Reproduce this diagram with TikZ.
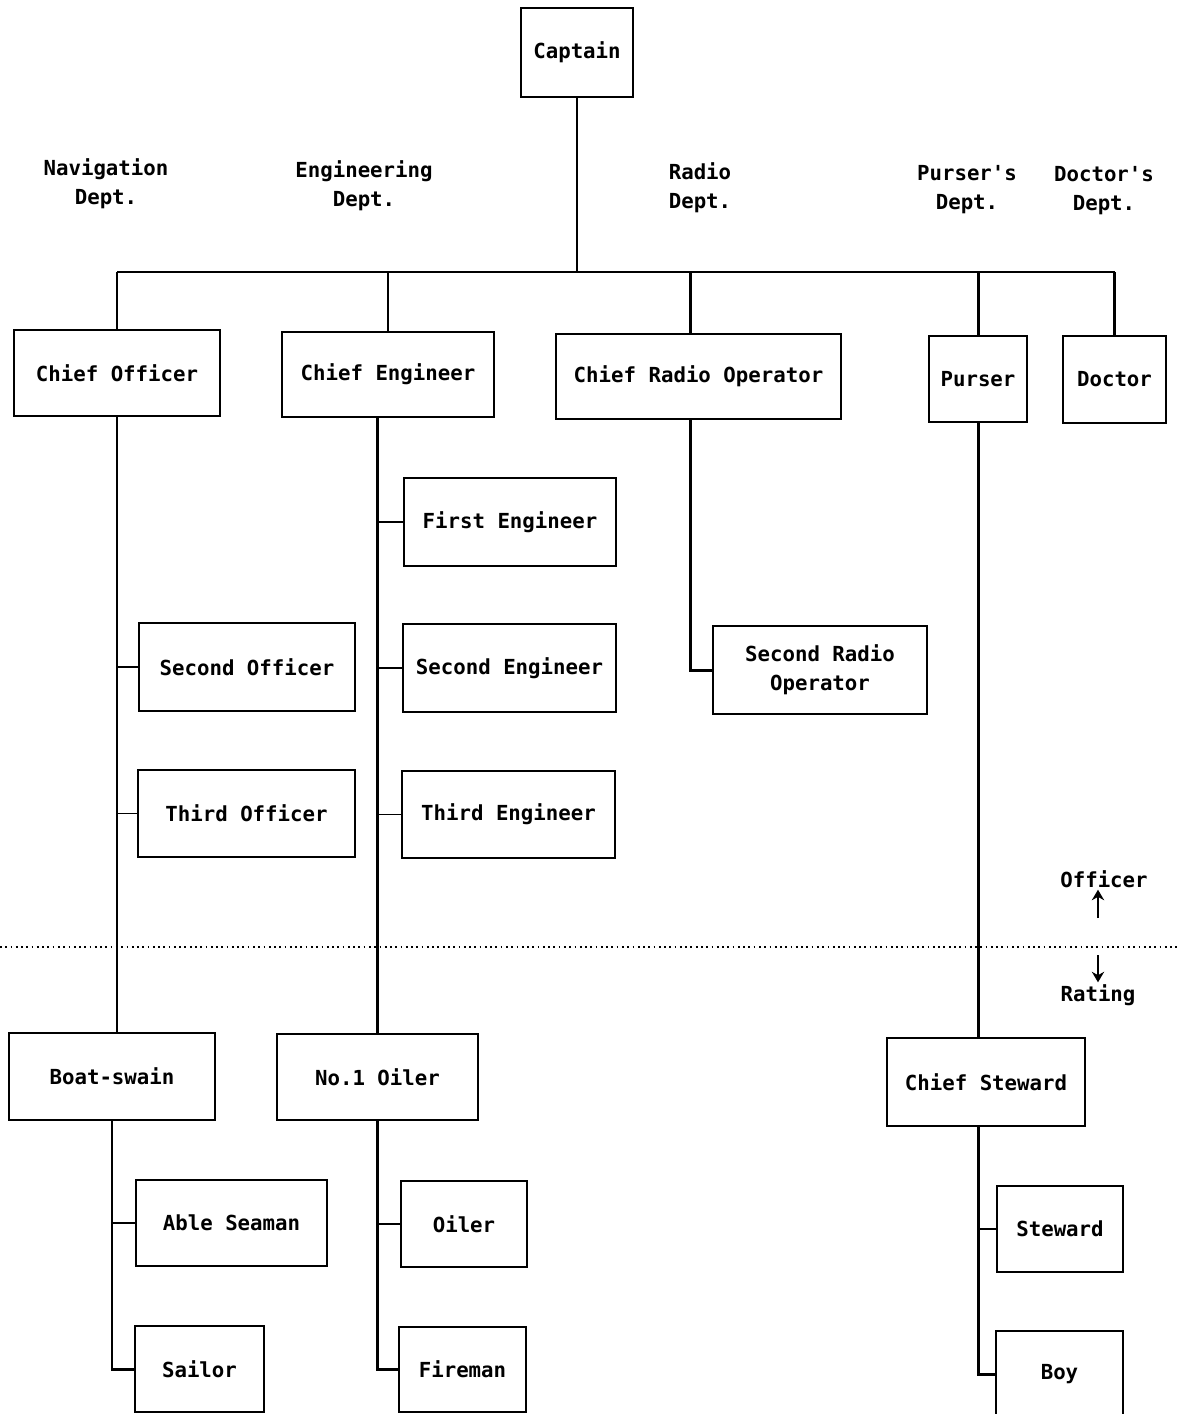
\documentclass[tikz,border=0pt]{standalone}
\usepackage{fontspec}
\newfontfamily\chartfont{DejaVu Sans Mono}
\usetikzlibrary{arrows.meta}

\tikzset{
  post/.style={draw, line width=1.1pt, inner sep=0pt, align=center,
    font=\chartfont\bfseries\fontsize{11.8}{16.5}\selectfont},
  dept/.style={align=center, inner sep=1pt,
    font=\chartfont\bfseries\fontsize{11.8}{16.5}\selectfont},
  trunk/.style={line width=1.7pt},
  bus/.style={line width=1.1pt},
  stub/.style={line width=0.6pt}
}

\begin{document}
\begin{tikzpicture}[x=0.02cm, y=-0.02cm]
\useasboundingbox (0,0) rectangle (1178,1414);

\node[post, minimum width=2.24cm, minimum height=1.78cm] (cap) at (577,52.5) {Captain};

\node[dept] (navd) at (106,184) {Navigation\\Dept.};
\node[dept] (engd) at (364,186) {Engineering\\Dept.};
\node[dept, align=left] (radd) at (700,188) {Radio\\Dept.};
\node[dept] (purd) at (967,190) {Purser's\\Dept.};
\node[dept] (docd) at (1104,191) {Doctor's\\Dept.};

\node[post, minimum width=4.12cm, minimum height=1.72cm] (co) at (117,373) {Chief Officer};
\node[post, minimum width=4.24cm, minimum height=1.70cm] (ce) at (388,374.5) {Chief Engineer};
\node[post, minimum width=5.70cm, minimum height=1.70cm] (cro) at (698.5,376.5) {Chief Radio Operator};
\node[post, minimum width=1.96cm, minimum height=1.72cm] (pur) at (978,379) {Purser};
\node[post, minimum width=2.06cm, minimum height=1.74cm] (doc) at (1114.5,379.5) {Doctor};

\node[post, minimum width=4.24cm, minimum height=1.76cm] (eng1) at (510,522) {First Engineer};
\node[post, minimum width=4.32cm, minimum height=1.76cm] (off2) at (247,667) {Second Officer};
\node[post, minimum width=4.26cm, minimum height=1.76cm] (eng2) at (509.5,668) {Second Engineer};
\node[post, minimum width=4.28cm, minimum height=1.76cm] (sro) at (820,670) {Second Radio\\Operator};
\node[post, minimum width=4.34cm, minimum height=1.74cm] (off3) at (246.5,813.5) {Third Officer};
\node[post, minimum width=4.26cm, minimum height=1.74cm] (eng3) at (508.5,814.5) {Third Engineer};

\node[dept] (offl) at (1104,879) {Officer};
\node[dept] (ratl) at (1098,995) {Rating};

\node[post, minimum width=4.12cm, minimum height=1.74cm] (bos) at (112,1076.5) {Boat-swain};
\node[post, minimum width=4.02cm, minimum height=1.72cm] (oil1) at (377.5,1077) {No.1 Oiler};
\node[post, minimum width=3.96cm, minimum height=1.76cm] (cst) at (986,1082) {Chief Steward};
\node[post, minimum width=3.82cm, minimum height=1.72cm] (able) at (231.5,1223) {Able Seaman};
\node[post, minimum width=2.52cm, minimum height=1.72cm] (oiler) at (464,1224) {Oiler};
\node[post, minimum width=2.52cm, minimum height=1.72cm] (stew) at (1060,1229) {Steward};
\node[post, minimum width=2.58cm, minimum height=1.72cm] (sailor) at (199.5,1369) {Sailor};
\node[post, minimum width=2.54cm, minimum height=1.70cm] (fire) at (462.5,1369.5) {Fireman};
\node[post, minimum width=2.54cm, minimum height=1.72cm] (boy) at (1059.5,1374) {Boy};

\coordinate (bus) at (0,272);
\draw[trunk] (cap.south) -- (cap.south |- bus);
\draw[bus] (co.north |- bus) -- (doc.north |- bus);
\draw[trunk] (co.north) -- (co.north |- bus);
\draw[trunk] (ce.north) -- (ce.north |- bus);
\draw[trunk] ([xshift=-0.17cm]cro.north) -- ([xshift=-0.17cm]cro.north |- bus);
\draw[trunk] (pur.north) -- (pur.north |- bus);
\draw[trunk] (doc.north) -- (doc.north |- bus);

\draw[trunk] (co.south) -- (co.south |- bos.north);
\draw[stub] (co.south |- off2.west) -- (off2.west);
\draw[stub] (co.south |- off3.west) -- (off3.west);

\draw[trunk] (oil1.north |- ce.south) -- (oil1.north);
\draw[stub] (oil1.north |- eng1.west) -- (eng1.west);
\draw[stub] (oil1.north |- eng2.west) -- (eng2.west);
\draw[stub] (oil1.north |- eng3.west) -- (eng3.west);

\draw[trunk] ([xshift=-0.17cm]cro.south) |- (sro.west);

\draw[trunk] (pur.south) -- (pur.south |- cst.north);

\draw[trunk] (bos.south) |- (sailor.west);
\draw[stub] (bos.south |- able.west) -- (able.west);
\draw[trunk] (oil1.south) |- (fire.west);
\draw[stub] (oil1.south |- oiler.west) -- (oiler.west);
\draw[trunk] (pur.south |- cst.south) |- (boy.west);
\draw[stub] (pur.south |- stew.west) -- (stew.west);

\coordinate (lineL) at (0,947);
\coordinate (lineR) at (1178,947);
\draw[dotted, line width=1pt] (lineL) -- (lineR);

\coordinate (upfoot) at (1098,918);
\coordinate (downfoot) at (1098,955);
\draw[line width=1.2pt, -{Stealth[length=6pt,width=7pt]}] (upfoot) -- (offl.south -| upfoot);
\draw[line width=1.2pt, -{Stealth[length=6pt,width=7pt]}] (downfoot) -- (ratl.north -| downfoot);
\end{tikzpicture}
\end{document}
